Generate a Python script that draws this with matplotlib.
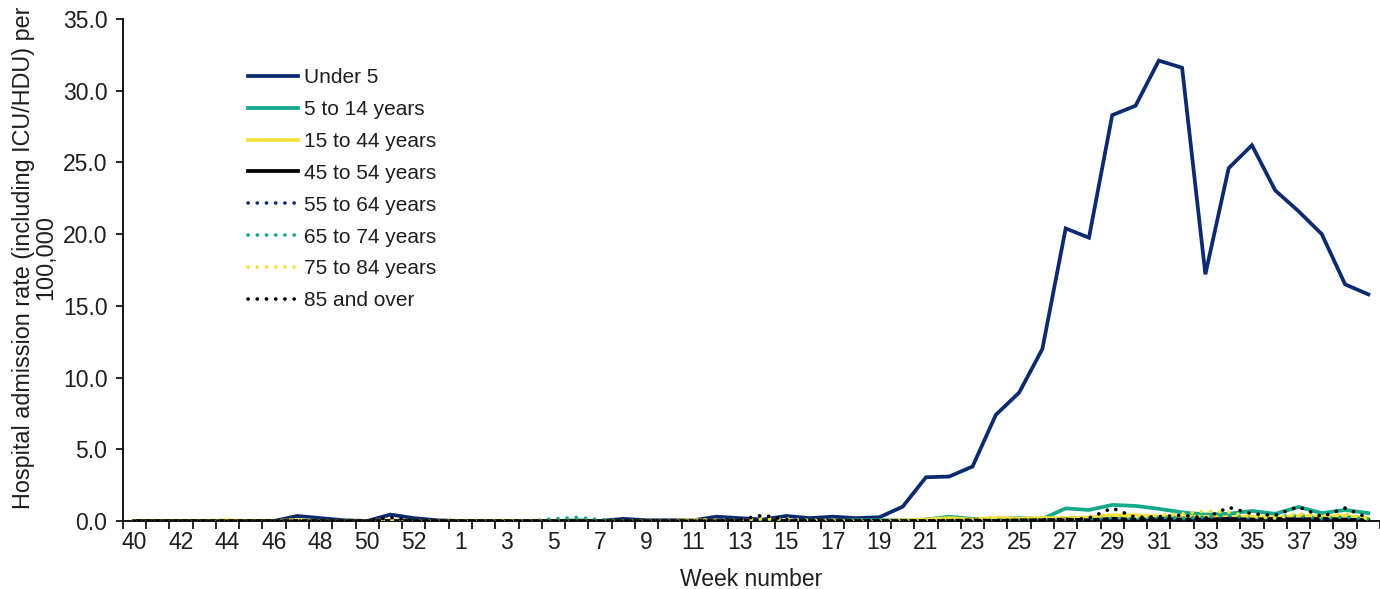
import matplotlib
matplotlib.use("Agg")
import matplotlib.pyplot as plt
import numpy as np

plt.rcParams['font.family'] = ['Liberation Sans', 'DejaVu Sans']

weeks = [str(w) for w in range(40, 54)] + [str(w) for w in range(1, 41)]

under5 = [0, 0, 0, 0, 0, 0, 0, 0.35, 0.2, 0.05, 0.0, 0.45, 0.2, 0.05,
          0, 0, 0, 0, 0, 0, 0, 0.15, 0.05, 0.05, 0.05, 0.3, 0.2, 0.1,
          0.35, 0.2, 0.3, 0.2, 0.26, 1.0, 3.05, 3.1, 3.8, 7.4, 8.95, 12.0,
          20.4, 19.75, 28.3, 28.95, 32.1, 31.6, 17.2, 24.6, 26.2, 23.05,
          21.6, 20.0, 16.5, 15.8]
age5_14 = [0, 0, 0, 0, 0, 0, 0, 0, 0, 0, 0, 0, 0, 0,
           0, 0, 0, 0, 0, 0.05, 0, 0, 0, 0, 0, 0, 0, 0,
           0, 0, 0, 0.05, 0.05, 0.05, 0.1, 0.3, 0.15, 0.15, 0.2, 0.15,
           0.88, 0.77, 1.12, 1.05, 0.85, 0.6, 0.45, 0.5, 0.7, 0.5,
           0.98, 0.55, 0.77, 0.55]
age15_44 = [0, 0, 0, 0, 0.05, 0, 0, 0.05, 0, 0, 0, 0.05, 0, 0,
            0, 0, 0, 0, 0, 0, 0, 0, 0, 0, 0.05, 0, 0, 0,
            0, 0, 0, 0, 0, 0.05, 0.1, 0.2, 0.1, 0.2, 0.15, 0.2,
            0.2, 0.25, 0.4, 0.4, 0.3, 0.3, 0.3, 0.25, 0.3, 0.25,
            0.35, 0.3, 0.35, 0.2]
age45_54 = [0, 0, 0, 0, 0, 0, 0, 0, 0, 0, 0, 0, 0, 0,
            0, 0, 0, 0, 0, 0, 0, 0, 0, 0, 0, 0, 0, 0,
            0, 0, 0, 0, 0, 0, 0, 0, 0.05, 0, 0.05, 0.05,
            0.1, 0.05, 0.15, 0.1, 0.15, 0.1, 0.1, 0.15, 0.1, 0.15,
            0.1, 0.15, 0.1, 0.05]
age55_64 = [0, 0, 0, 0, 0, 0, 0, 0, 0, 0, 0, 0.1, 0, 0,
            0, 0, 0, 0, 0, 0, 0, 0, 0, 0, 0, 0, 0, 0,
            0, 0, 0, 0, 0, 0, 0, 0.05, 0, 0.05, 0.05, 0.1,
            0.05, 0.1, 0.2, 0.15, 0.25, 0.1, 0.2, 0.3, 0.15, 0.2,
            0.3, 0.1, 0.25, 0.1]
age65_74 = [0, 0, 0, 0, 0, 0, 0, 0, 0, 0, 0, 0, 0, 0,
            0, 0, 0, 0, 0.15, 0.25, 0.1, 0, 0, 0, 0, 0, 0, 0,
            0, 0, 0, 0, 0, 0, 0.05, 0.1, 0.05, 0.1, 0.1, 0.15,
            0.1, 0.2, 0.25, 0.2, 0.3, 0.2, 0.3, 0.4, 0.25, 0.3,
            0.4, 0.2, 0.3, 0.15]
age75_84 = [0, 0, 0, 0, 0.05, 0, 0, 0.1, 0, 0, 0, 0.05, 0, 0,
            0, 0, 0.05, 0, 0, 0, 0, 0, 0, 0, 0.1, 0.05, 0.1, 0.15,
            0.15, 0.05, 0.05, 0, 0, 0.05, 0.05, 0.2, 0.1, 0.3, 0.2, 0.25,
            0.1, 0.3, 0.4, 0.3, 0.4, 0.5, 0.7, 0.6, 0.3, 0.2,
            0.5, 0.3, 0.5, 0.15]
age85 = [0, 0, 0, 0, 0, 0, 0, 0, 0, 0, 0, 0.25, 0, 0,
         0, 0, 0, 0, 0, 0, 0, 0, 0, 0, 0, 0, 0.1, 0.4,
         0.1, 0, 0, 0, 0, 0, 0, 0.05, 0, 0.05, 0.05, 0.1,
         0.05, 0.2, 0.9, 0.25, 0.3, 0.4, 0.2, 0.95, 0.5, 0.4,
         1.0, 0.3, 0.9, 0.2]

labels = ["Under 5", "5 to 14 years", "15 to 44 years", "45 to 54 years",
          "55 to 64 years", "65 to 74 years", "75 to 84 years", "85 and over"]

navy = "#0c2a6e"
teal = "#14a98b"
yellow = "#f3e03b"
black = "#000000"

series = [under5, age5_14, age15_44, age45_54, age55_64, age65_74, age75_84, age85]
colors = [navy, teal, yellow, black, navy, teal, yellow, black]
dotted = [False, False, False, False, True, True, True, True]

TXT = '#1e1e1e'
FS = 16.5

fig = plt.figure(figsize=(13.8, 5.89), dpi=100)
ax = fig.add_axes([122.7/1380, (589-521)/589, (1380-122.7)/1380, 502/589])

x = np.arange(len(weeks))
for vals, c, d, lab in zip(series, colors, dotted, labels):
    if d:
        ax.plot(x, vals, color=c, lw=2.6, linestyle=(0, (0.05, 2.5)),
                dash_capstyle='round', label=lab, zorder=3)
    else:
        ax.plot(x, vals, color=c, lw=2.7, label=lab, solid_joinstyle='miter', zorder=2)

ax.set_xlim(-0.5, len(weeks) - 0.5)
ax.set_ylim(0, 35)
ax.set_yticks(np.arange(0, 35.1, 5))
ax.set_yticklabels([f"{v:.1f}" for v in np.arange(0, 35.1, 5)])

ax.set_xticks(np.arange(-0.5, len(weeks), 1.0))
ax.set_xticklabels([])
ax.set_xticks(x[::2], minor=True)
ax.set_xticklabels([weeks[i] for i in x[::2]], minor=True)
ax.tick_params(axis='x', which='major', length=6, width=1.2, direction='out', color='black')
ax.tick_params(axis='x', which='minor', length=0, labelsize=FS, pad=7, colors=TXT)
ax.tick_params(axis='y', length=5, width=1.2, direction='out', labelsize=FS, pad=6, colors='black')
for lab in ax.get_yticklabels():
    lab.set_color(TXT)

for s in ['top', 'right']:
    ax.spines[s].set_visible(False)
for s in ['left', 'bottom']:
    ax.spines[s].set_linewidth(1.3)
    ax.spines[s].set_color('black')

ax.set_xlabel("Week number", fontsize=FS, labelpad=10, color=TXT)
ax.set_ylabel("Hospital admission rate (including ICU/HDU) per\n100,000", fontsize=16.8,
              labelpad=4, color=TXT, linespacing=0.95)
ax.yaxis.label.set_y(0.524)

leg = ax.legend(loc='upper left', bbox_to_anchor=(248/1380, 1 - 68/589),
                bbox_transform=fig.transFigure, frameon=False, fontsize=15,
                handlelength=2.4, handletextpad=0.3, labelspacing=0.62,
                borderpad=0, borderaxespad=0)
for t in leg.get_texts():
    t.set_color(TXT)

fig.savefig("out.png", dpi=100)
